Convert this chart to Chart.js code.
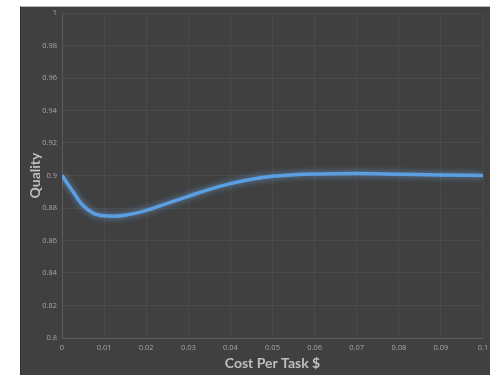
<!DOCTYPE html>
<html>
<head>
<meta charset="utf-8">
<script src="https://cdn.jsdelivr.net/npm/chart.js@4/dist/chart.umd.min.js"></script>
<style>
  html, body { margin: 0; padding: 0; background: #ffffff; width: 490px; height: 375px; overflow: hidden; }
  .panel {
    position: absolute; left: 20px; top: 6px; width: 470px; height: 369px;
    background: #404040; border-top: 1px solid #b8b8b8; border-left: 1px solid #2e2e2e;
    box-sizing: border-box;
  }
  .panel canvas { position: absolute; left: -1px; top: -1px; }
</style>
</head>
<body>
<div class="panel"><canvas id="quality" width="470" height="369"></canvas></div>
<script>
// cost per task ($) vs. quality
const COST = [0, 0.0025, 0.005, 0.0075, 0.01, 0.0125, 0.015, 0.02, 0.025, 0.03, 0.035, 0.04, 0.045, 0.05, 0.055, 0.06, 0.065, 0.07, 0.08, 0.09, 0.1]
const QUALITY = [0.900, 0.8905, 0.8815, 0.8767, 0.8752, 0.875, 0.8755, 0.8785, 0.8828, 0.8872, 0.8915, 0.895, 0.8977, 0.8995, 0.9004, 0.9009, 0.9011, 0.9012, 0.9008, 0.9003, 0.900]

const X_TICKS = ['0', '0.01', '0.02', '0.03', '0.04', '0.05', '0.06', '0.07', '0.08', '0.09', '0.1']
const Y_TICKS = ['0.8', '0.82', '0.84', '0.86', '0.88', '0.9', '0.92', '0.94', '0.96', '0.98', '1']

const tickFont = { family: "'Open Sans', sans-serif", size: 7.5 }
const titleFont = { family: "Lato, 'Open Sans', sans-serif", size: 14, weight: 'bold' }

// soft halo round the line
const glow = {
  id: 'glow',
  beforeDatasetDraw(chart) {
    const ctx = chart.ctx
    ctx.save()
    ctx.shadowColor = 'rgba(110,170,235,0.75)'
    ctx.shadowBlur = 6
  },
  afterDatasetDraw(chart) {
    chart.ctx.restore()
  }
}

const points = COST.map((c, i) => ({ x: c, y: QUALITY[i] }))

new Chart(document.getElementById('quality').getContext('2d'), {
  type: 'line',
  data: {
    datasets: [{
      label: 'Quality',
      data: points,
      borderColor: '#5b9fe2',
      borderWidth: 3.5,
      pointRadius: 0,
      cubicInterpolationMode: 'monotone',
      fill: false
    }]
  },
  options: {
    responsive: false,
    animation: false,
    devicePixelRatio: 1,
    layout: { padding: { left: 0, right: 7, top: 7, bottom: 0 } },
    plugins: { legend: { display: false }, tooltip: { enabled: false } },
    scales: {
      x: {
        type: 'linear',
        min: 0,
        max: 0.1,
        // fixed axis box, no extra room for the edge labels
        afterFit(scale) {
          scale.height = 37
          scale.paddingLeft = 0
          scale.paddingRight = 0
        },
        ticks: {
          stepSize: 0.01,
          color: '#a6a6a6',
          font: tickFont,
          padding: 5,
          maxRotation: 0,
          callback: (v, i) => X_TICKS[i]
        },
        grid: { color: '#4a4a4a', lineWidth: 1, drawTicks: false },
        border: { color: '#5c5c5c', width: 1 },
        title: {
          display: true,
          text: 'Cost Per Task $',
          color: '#bfbfbf',
          font: titleFont,
          padding: { top: 2, bottom: 3 }
        }
      },
      y: {
        min: 0.8,
        max: 1,
        afterFit(scale) {
          scale.width = 42
          scale.paddingTop = 0
          scale.paddingBottom = 0
        },
        ticks: {
          stepSize: 0.02,
          color: '#a6a6a6',
          font: tickFont,
          padding: 5,
          callback: (v, i) => Y_TICKS[i]
        },
        grid: { color: '#4a4a4a', lineWidth: 1, drawTicks: false },
        border: { color: '#5c5c5c', width: 1 },
        title: {
          display: true,
          text: 'Quality',
          color: '#bfbfbf',
          font: titleFont,
          padding: { top: 7, bottom: 0 }
        }
      }
    }
  },
  plugins: [glow]
})
</script>
</body>
</html>
